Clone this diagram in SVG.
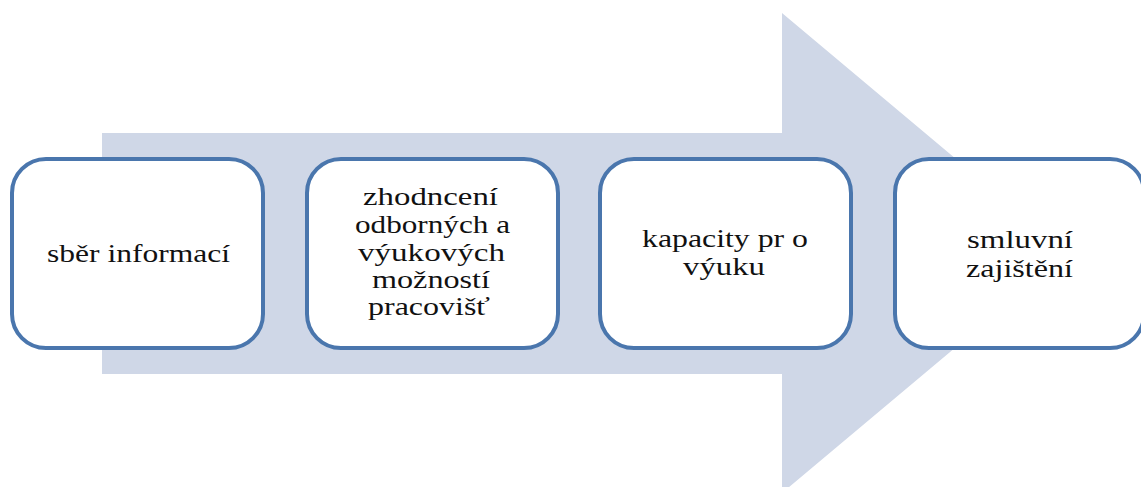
<svg xmlns="http://www.w3.org/2000/svg" width="1141" height="487" viewBox="0 0 1141 487">
<style>
.box{fill:#ffffff;stroke:#4a76ad;stroke-width:4}
.t{font-family:"Liberation Serif","Times New Roman",serif;font-size:24.5px;fill:#111111}
</style>
<rect width="1141" height="487" fill="#ffffff"/>
<g id="arrow">
<polygon points="102,133 782,133 782,13 1068,253 782,493 782,374 102,374" fill="#cfd7e7"/>
</g>
<g id="connectors"></g>
<g id="node1">
<rect class="box" x="12" y="159" width="251" height="189" rx="34" ry="34"/>
<text class="t" x="47" y="262" textLength="183" lengthAdjust="spacingAndGlyphs">sběr informací</text>
</g>
<g id="node2">
<rect class="box" x="307" y="159" width="251" height="189" rx="34" ry="34"/>
<text class="t" x="363" y="205" textLength="135" lengthAdjust="spacingAndGlyphs">zhodncení</text>
<text class="t" x="355" y="233" textLength="155" lengthAdjust="spacingAndGlyphs">odborných a</text>
<text class="t" x="358" y="261" textLength="147" lengthAdjust="spacingAndGlyphs">výukových</text>
<text class="t" x="372" y="288" textLength="118" lengthAdjust="spacingAndGlyphs">možností</text>
<text class="t" x="368" y="315" textLength="122" lengthAdjust="spacingAndGlyphs">pracovišť</text>
</g>
<g id="node3">
<rect class="box" x="600" y="159" width="251" height="189" rx="34" ry="34"/>
<text class="t" x="642" y="247" textLength="166" lengthAdjust="spacingAndGlyphs">kapacity pr o</text>
<text class="t" x="683" y="275" textLength="82" lengthAdjust="spacingAndGlyphs">výuku</text>
</g>
<g id="node4">
<rect class="box" x="895" y="159" width="249" height="189" rx="34" ry="34"/>
<text class="t" x="967" y="248" textLength="106" lengthAdjust="spacingAndGlyphs">smluvní</text>
<text class="t" x="966" y="277" textLength="107" lengthAdjust="spacingAndGlyphs">zajištění</text>
</g>
</svg>
